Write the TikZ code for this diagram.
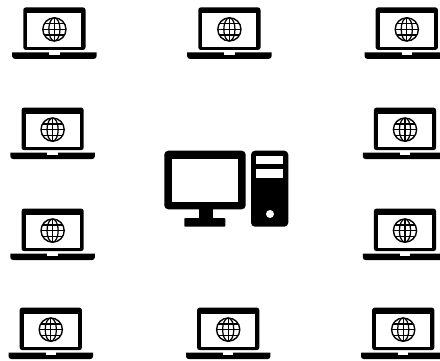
\documentclass[tikz,border=0pt]{standalone}
\tikzset{
  laptop/.pic={
    % coordinates relative to the globe centre
    \fill[black,rounded corners=2.5pt] (-31.1,-22) rectangle (31.1,20.5);
    \fill[white] (-27,-16) rectangle (27,17.3);
    \fill[black] (-42.2,23) -- (42.2,23) -- (42.2,26.4) [rounded corners=2.6pt] -- (42.2,29.4) -- (-42.2,29.4) [sharp corners] -- (-42.2,23) -- cycle;
    \fill[white] (-5.2,22.8) rectangle (5.2,25.4);
    \draw[black,line width=1.4pt] (0,0) circle (11.6);
    \draw[black,line width=1.25pt] (0,0) ellipse (5.6 and 11.6);
    \draw[black,line width=1.25pt] (0,-11.6) -- (0,11.6) (-11.6,0) -- (11.6,0);
    \draw[black,line width=1.1pt] (-10,-5.6) -- (10,-5.6) (-10,5.6) -- (10,5.6);
  }
}
\begin{document}
\begin{tikzpicture}[x=1pt,y=-1pt]
\useasboundingbox (0,0) rectangle (440,360);
\clip (0,0) rectangle (440,360);
\fill[white] (0,0) rectangle (440,360);
\foreach \x/\y in {54.4/29.4,229.4/29.4,406.8/29.4,
                   52.6/129.6,405/129.6,
                   52.6/230.6,405/230.6,
                   50.8/329.6,228.2/329.6,403.2/329.6}
  \pic at (\x,\y) {laptop};
% monitor
\fill[black,rounded corners=4pt] (164.3,150.7) rectangle (245.7,209.3);
\fill[white] (172.3,158.7) rectangle (237.7,201.7);
\fill[black] (199.3,209) rectangle (213.3,219);
\fill[black,rounded corners=0.8pt] (184.3,218) rectangle (225.3,226.7);
% tower
\fill[black,rounded corners=4pt] (251,150.7) rectangle (288.3,226.7);
\fill[white] (256.3,156) rectangle (283.3,164.3);
\fill[white] (256.3,169.3) rectangle (283.3,177.7);
\fill[white] (270,214) circle (4);
\end{tikzpicture}
\end{document}
